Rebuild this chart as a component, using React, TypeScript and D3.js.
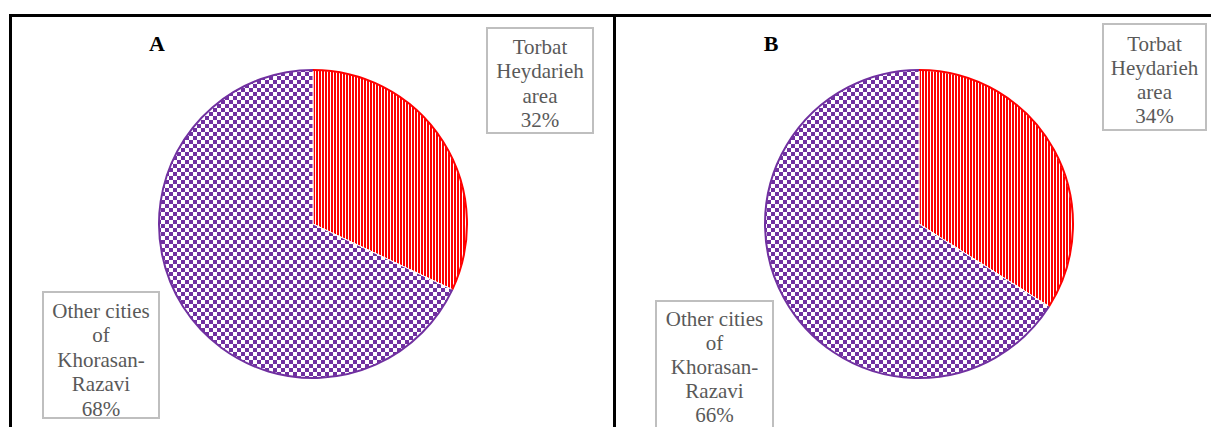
import React from "react";
import * as d3 from "d3";

// data
const categories = ["Torbat Heydarieh area", "Other cities of Khorasan-Razavi"];
const panelNames = ["A", "B"];
const valuesA = [32, 68];
const valuesB = [34, 66];
const labelLinesTorbat = ["Torbat", "Heydarieh", "area"];
const labelLinesOther = ["Other cities", "of", "Khorasan-", "Razavi"];

const W = 1211, H = 427;
const RED = "#FF0000";
const PURPLE = "#7030A0";
const TEXT = "#595959";
const BOX = "#BFBFBF";
const SERIF = "Liberation Serif";

// layout per panel
const panels = [
  {
    name: panelNames[0], values: valuesA, cx: 313, cy: 224, r: 154,
    nameX: 157, nameY: 51, gap: 24.4,
    boxes: [
      { x: 487, y: 28, w: 106, h: 105, y0: 54, lines: labelLinesTorbat },
      { x: 43, y: 292, w: 116, h: 126, y0: 318, lines: labelLinesOther },
    ],
  },
  {
    name: panelNames[1], values: valuesB, cx: 919, cy: 224, r: 154,
    nameX: 771, nameY: 51, gap: 24,
    boxes: [
      { x: 1103, y: 24, w: 103, h: 106, y0: 51, lines: labelLinesTorbat },
      { x: 656, y: 301, w: 117, h: 140, y0: 326, lines: labelLinesOther },
    ],
  },
];

const Panel = ({ p }: { p: any }) => {
  const pie = d3.pie<number>().sort(null).value(d => d);
  const arcs = pie(p.values);
  const arc = d3.arc<d3.PieArcDatum<number>>().innerRadius(0).outerRadius(p.r);
  const fills = [`url(#stripes)`, `url(#checker)`];
  const strokes = [RED, PURPLE];
  return (
    <g>
      <g transform={`translate(${p.cx},${p.cy})`}>
        {arcs.map((a, i) => (
          <path key={"f" + i} d={arc(a) || ""} fill={fills[i]} stroke="#fff" strokeWidth={1} />
        ))}
        {arcs.map((a, i) => {
          const pth = d3.path();
          pth.arc(0, 0, p.r, a.startAngle - Math.PI / 2, a.endAngle - Math.PI / 2);
          return <path key={"o" + i} d={pth.toString()} fill="none" stroke={strokes[i]} strokeWidth={2} />;
        })}
      </g>
      <text x={p.nameX} y={p.nameY} textAnchor="middle" fontFamily={SERIF}
        fontWeight="bold" fontSize={22} fill="#000">{p.name}</text>
      {p.boxes.map((b: any, i: number) => {
        const pct = `${p.values[i]}%`;
        const lines = [...b.lines, pct];
        return (
          <g key={"b" + i}>
            <rect x={b.x} y={b.y} width={b.w} height={b.h} fill="#fff" stroke={BOX} strokeWidth={2} />
            {lines.map((l: string, j: number) => (
              <text key={j} x={b.x + b.w / 2} y={b.y0 + j * p.gap}
                textAnchor="middle" fontFamily={SERIF} fontSize={21} fill={TEXT}>
                {l}
              </text>
            ))}
          </g>
        );
      })}
    </g>
  );
};

export default function App() {
  return (
    <svg width={W} height={H} style={{ position: "absolute", left: 0, top: 0, background: "#fff" }}
      aria-label={categories.join(" vs ")}>
      <defs>
        <pattern id="stripes" width={3} height={3} patternUnits="userSpaceOnUse">
          <rect width={3} height={3} fill="#fff" />
          <rect width={2} height={3} fill={RED} />
        </pattern>
        <pattern id="checker" width={8} height={8} patternUnits="userSpaceOnUse">
          <rect width={8} height={8} fill="#fff" />
          <rect x={0} y={0} width={4} height={4} fill={PURPLE} />
          <rect x={4} y={4} width={4} height={4} fill={PURPLE} />
        </pattern>
      </defs>
      <rect width={W} height={H} fill="#fff" />
      {/* frame */}
      <line x1={9} y1={15.5} x2={W} y2={15.5} stroke="#000" strokeWidth={3} />
      <line x1={10.5} y1={14} x2={10.5} y2={H} stroke="#000" strokeWidth={3} />
      <line x1={614.5} y1={14} x2={614.5} y2={H} stroke="#000" strokeWidth={3} />
      {panels.map((p, i) => <Panel key={i} p={p} />)}
    </svg>
  );
}
